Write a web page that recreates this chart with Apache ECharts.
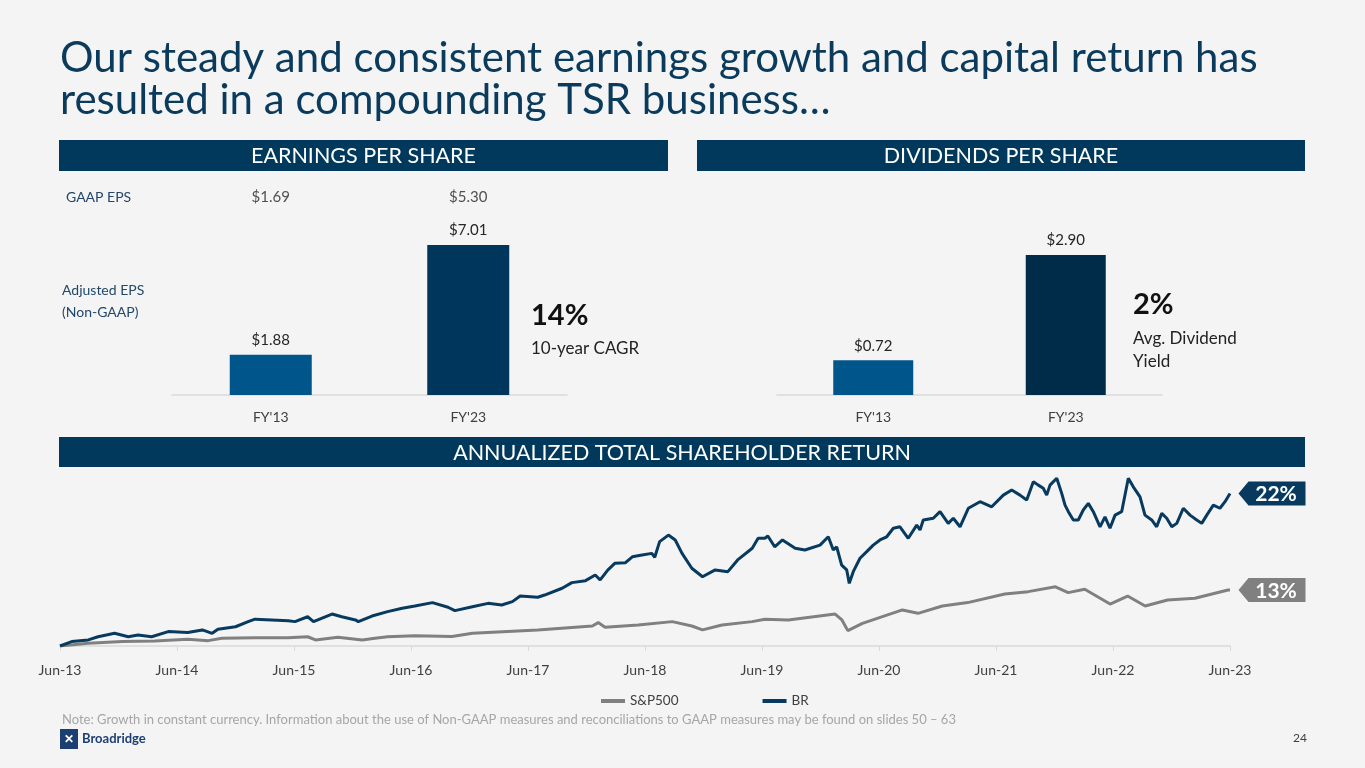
<!DOCTYPE html>
<html><head><meta charset="utf-8">
<script src="https://cdn.jsdelivr.net/npm/echarts@6/dist/echarts.min.js"></script>
<style>html,body{margin:0;padding:0;background:#f4f4f4;}#c{width:1365px;height:768px;}</style>
</head><body><div id="c"></div>
<script>
// ---------- DATA ----------
const epsCategories = ["FY'13", "FY'23"];
const adjustedEps = [1.88, 7.01];
const gaapEps = [1.69, 5.30];
const dpsCategories = ["FY'13", "FY'23"];
const dividendsPerShare = [0.72, 2.90];
const tsrTickLabels = ['Jun-13','Jun-14','Jun-15','Jun-16','Jun-17','Jun-18','Jun-19','Jun-20','Jun-21','Jun-22','Jun-23'];
const tsrSeriesNames = ['S&P500', 'BR'];
const tsrAnnualized = ['13%', '22%'];
// months since Jun-13 and growth of $100
const brMonths = [0,1.2,2.9,3.9,5.6,7.0,8.0,9.4,11.1,13.1,14.6,15.6,16.2,18.0,19.3,20.0,21.7,23.4,24.1,25.4,26.0,27.9,28.9,30.3,30.6,32.0,33.6,35.1,36.4,38.2,39.8,40.5,42.3,43.9,45.3,46.4,47.2,49.0,49.7,51.5,52.5,53.9,54.9,55.4,56.2,56.9,58.0,58.7,59.7,60.7,61.0,61.5,62.4,63.1,63.8,64.8,65.9,67.2,68.5,69.5,71.0,71.6,72.3,72.6,73.3,74.1,75.4,76.4,
  77.95,78.8,79.31,79.66,80.17,80.69,80.95,81.36,82.05,82.74,83.41,84.1,84.79,85.47,86.15,87.0,87.87,88.21,88.54,89.57,90.26,91.1,91.62,92.31,93.16,94.36,95.56,96.75,97.61,98.46,99.15,99.83,100.34,100.85,101.2,101.54,102.23,102.74,103.08,103.42,103.93,104.44,104.95,105.47,105.98,106.67,107.18,107.69,108.21,108.89,109.57,110.08,110.77,111.28,111.97,112.48,113.0,113.51,114.03,114.54,115.21,115.9,116.59,117.1,117.62,118.29,118.97,119.49,120];
const brIndex = [100,118,125,138,152,138,145,138,159,155,166,152,169,179,200,210,207,204,200,220,200,231,220,207,200,223,241,255,264,278,259,245,261,275,268,282,305,300,309,337,360,368,391,371,412,439,442,466,473,480,464,528,555,535,480,419,384,412,405,453,501,542,542,551,507,535,501,494,
  514,548,494,507,432,412,357,405,460,487,514,535,548,583,589,542,596,576,617,624,651,603,624,589,665,692,671,719,740,719,699,774,760,747,719,760,788,726,678,651,617,617,658,685,651,589,630,583,637,651,788,753,712,637,617,589,644,624,589,603,665,637,617,603,637,678,665,692,726];
const spMonths = [0,2.9,6.4,9.7,13.1,15.2,16.6,20.0,23.4,25.4,26.2,28.5,31.0,32.3,33.6,36.4,40.2,42.3,49.0,54.6,55.2,55.9,59.3,62.8,64.8,65.9,67.9,71.0,72.3,74.7,79.5,80.2,80.8,82.3,86.4,88.0,90.5,93.1,96.9,99.3,102.1,103.4,105.1,107.7,109.5,111.3,113.6,116.4,119.8,120];
const spIndex = [100,111,118,121,128,122,132,134,134,138,125,136,125,132,138,142,139,152,166,182,196,177,186,200,182,166,186,200,210,207,231,207,163,193,248,234,264,278,313,323,343,319,333,272,305,264,289,296,330,330];

// ---------- CHART ----------
const chart = echarts.init(document.getElementById('c'));
const FONT = 'Lato, "Open Sans", sans-serif';
const navy = '#0a3a5c';
const barColors = ['#00558b', '#00365b'];
const dpsColors = ['#00558b', '#002b49'];

function banner(x, y, w, h, text) {
  return {
    type: 'group', children: [
      { type: 'rect', shape: { x: x, y: y, width: w, height: h }, style: { fill: '#00395c' } },
      { type: 'text', style: { x: x + w / 2, y: y + h / 2 + 1, text: text, fill: '#ffffff', font: '21.5px ' + FONT, textAlign: 'center', textVerticalAlign: 'middle' } }
    ]
  };
}
function txt(x, y, text, size, color, weight, align) {
  return { type: 'text', style: { x: x, y: y, text: text, fill: color, font: (weight || 'normal') + ' ' + size + 'px ' + FONT, textAlign: align || 'left', textVerticalAlign: 'middle' } };
}
const tagPath = 'path://M0,12 L10,0 L67,0 L67,24 L10,24 Z';

const option = {
  backgroundColor: '#f4f4f4',
  animation: false,
  textStyle: { fontFamily: FONT },
  graphic: [
    txt(60, 58, 'Our steady and consistent earnings growth and capital return has', 42, navy),
    txt(60, 100, 'resulted in a compounding TSR business…', 42, navy),
    banner(59, 140, 609, 31, 'EARNINGS PER SHARE'),
    banner(697, 140, 608, 31, 'DIVIDENDS PER SHARE'),
    banner(59, 437, 1246, 30, 'ANNUALIZED TOTAL SHAREHOLDER RETURN'),
    txt(66, 197, 'GAAP EPS', 14, '#23476b'),
    txt(62, 290, 'Adjusted EPS', 14, '#23476b'),
    txt(62, 312, '(Non-GAAP)', 14, '#23476b'),
    txt(531, 316, '14%', 29, '#111111', 'bold'),
    txt(531, 349, '10-year CAGR', 17, '#222222'),
    txt(1133, 305, '2%', 29, '#111111', 'bold'),
    txt(1133, 339, 'Avg. Dividend', 17, '#222222'),
    txt(1133, 362, 'Yield', 17, '#222222'),
    txt(62, 720, 'Note: Growth in constant currency. Information about the use of Non-GAAP measures and reconciliations to GAAP measures may be found on slides 50 – 63', 13, '#a6a6a6'),
    { type: 'rect', shape: { x: 60, y: 729, width: 18, height: 20 }, style: { fill: '#1c3f73' } },
    { type: 'text', style: { x: 69, y: 739, text: '✕', fill: '#ffffff', font: 'bold 12px ' + FONT, textAlign: 'center', textVerticalAlign: 'middle' } },
    txt(82, 739, 'Broadridge', 13, '#1c3f73', 'bold'),
    txt(1300, 738, '24', 12, '#404040', 'normal', 'center')
  ],
  legend: {
    data: tsrSeriesNames,
    left: 596, top: 689,
    itemGap: 84, itemWidth: 24, itemHeight: 4, icon: 'rect',
    textStyle: { fontSize: 13.5, color: '#404040', fontFamily: FONT }
  },
  grid: [
    { left: 172, width: 395, top: 180, height: 215 },
    { left: 777, width: 385, top: 180, height: 215 },
    { left: 60, right: 135, top: 470, bottom: 122 }
  ],
  xAxis: [
    { gridIndex: 0, type: 'category', data: epsCategories, axisLine: { lineStyle: { color: '#d9d9d9', width: 1.5 } }, axisTick: { show: false },
      axisLabel: { color: '#404040', fontSize: 14, margin: 15 } },
    { gridIndex: 1, type: 'category', data: dpsCategories, axisLine: { lineStyle: { color: '#d9d9d9', width: 1.5 } }, axisTick: { show: false },
      axisLabel: { color: '#404040', fontSize: 14, margin: 15 } },
    { gridIndex: 2, type: 'value', min: 0, max: 120, interval: 12,
      axisLine: { lineStyle: { color: '#d9d9d9', width: 1.5 } }, axisTick: { show: true, length: 5, lineStyle: { color: '#d9d9d9' } },
      splitLine: { show: false },
      axisLabel: { color: '#404040', fontSize: 14, margin: 17, formatter: v => tsrTickLabels[Math.round(v / 12)] } }
  ],
  yAxis: [
    { gridIndex: 0, type: 'value', min: 0, max: 10.05, show: false },
    { gridIndex: 1, type: 'value', min: 0, max: 4.45, show: false },
    { gridIndex: 2, type: 'value', min: 100, max: 822, show: false }
  ],
  series: [
    { type: 'bar', xAxisIndex: 0, yAxisIndex: 0, barWidth: 82,
      data: adjustedEps.map((v, i) => ({ value: v, itemStyle: { color: barColors[i] } })),
      label: { show: true, position: 'top', distance: 7, color: '#262626', fontSize: 15, formatter: p => '$' + p.value.toFixed(2) } },
    { type: 'scatter', xAxisIndex: 0, yAxisIndex: 0, symbolSize: 0, silent: true,
      data: gaapEps.map((v, i) => [i, 9.25]),
      label: { show: true, position: 'inside', color: '#262626', fontSize: 15, formatter: p => '$' + gaapEps[p.dataIndex].toFixed(2) } },
    { type: 'bar', xAxisIndex: 1, yAxisIndex: 1, barWidth: 80,
      data: dividendsPerShare.map((v, i) => ({ value: v, itemStyle: { color: dpsColors[i] } })),
      label: { show: true, position: 'top', distance: 7, color: '#262626', fontSize: 15, formatter: p => '$' + p.value.toFixed(2) } },
    { name: 'S&P500', type: 'line', xAxisIndex: 2, yAxisIndex: 2, showSymbol: false, symbol: 'none',
      data: spMonths.map((m, i) => [m, spIndex[i]]),
      lineStyle: { color: '#808080', width: 3 }, itemStyle: { color: '#808080' },
      markPoint: { symbol: tagPath, symbolSize: [67, 24], symbolOffset: [42, 0], silent: true,
        itemStyle: { color: '#808080' },
        label: { show: true, color: '#ffffff', fontSize: 21, fontWeight: 'bold', offset: [4, 1], formatter: tsrAnnualized[0] },
        data: [{ coord: [spMonths[spMonths.length - 1], spIndex[spIndex.length - 1]] }] } },
    { name: 'BR', type: 'line', xAxisIndex: 2, yAxisIndex: 2, showSymbol: false, symbol: 'none',
      data: brMonths.map((m, i) => [m, brIndex[i]]),
      lineStyle: { color: '#073a5e', width: 3 }, itemStyle: { color: '#073a5e' },
      markPoint: { symbol: tagPath, symbolSize: [67, 24], symbolOffset: [42, 0], silent: true,
        itemStyle: { color: '#073a5e' },
        label: { show: true, color: '#ffffff', fontSize: 21, fontWeight: 'bold', offset: [4, 1], formatter: tsrAnnualized[1] },
        data: [{ coord: [brMonths[brMonths.length - 1], brIndex[brIndex.length - 1]] }] } }
  ]
};
chart.setOption(option);
</script>
</body></html>
